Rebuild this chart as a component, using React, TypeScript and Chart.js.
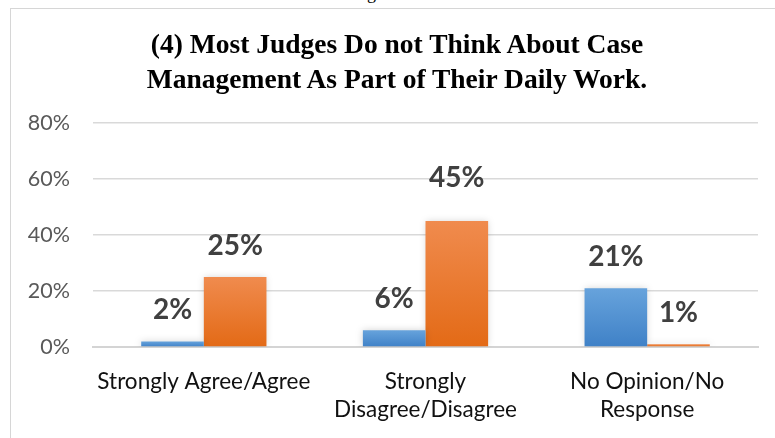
import React, { useEffect, useRef } from "react";
import { Chart, registerables } from "chart.js";

Chart.register(...registerables);

const categories: string[][] = [
  ["Strongly Agree/Agree"],
  ["Strongly", "Disagree/Disagree"],
  ["No Opinion/No", "Response"],
];
const seriesANames = "Series 1";
const seriesBNames = "Series 2";
const seriesA: number[] = [2, 6, 21];
const seriesB: number[] = [25, 45, 1];
const yTicks: number[] = [0, 20, 40, 60, 80];
const titleLines: string[] = [
  "(4) Most Judges Do not Think About Case",
  "Management As Part of Their Daily Work.",
];

const BLUE_TOP = "#67a3dc";
const BLUE_BOT = "#3f81c7";
const ORANGE_TOP = "#f08b4e";
const ORANGE_BOT = "#e36a16";

function barGradient(top: string, bot: string) {
  return (ctx: any) => {
    const chart = ctx.chart;
    const ys = chart.scales && chart.scales.y;
    if (!ys || !chart.chartArea || ctx.parsed == null) return bot;
    const yTop = ys.getPixelForValue(ctx.parsed.y);
    const yBot = ys.getPixelForValue(0);
    if (!isFinite(yTop) || !isFinite(yBot) || yTop === yBot) return bot;
    const g = chart.ctx.createLinearGradient(0, yTop, 0, yBot);
    g.addColorStop(0, top);
    g.addColorStop(1, bot);
    return g;
  };
}

const shadowPlugin = {
  id: "barShadow",
  beforeDatasetsDraw(chart: any) {
    const c = chart.ctx;
    c.save();
    c.shadowColor = "rgba(0,0,0,0.18)";
    c.shadowBlur = 7;
    c.shadowOffsetX = 0;
    c.shadowOffsetY = 0;
  },
  afterDatasetsDraw(chart: any) {
    chart.ctx.restore();
  },
};

const labelPlugin = {
  id: "valueLabels",
  afterDatasetsDraw(chart: any, _args: any, opts: any) {
    const c = chart.ctx;
    c.save();
    c.font = "bold 28px Lato";
    c.fillStyle = "#404040";
    c.textAlign = "center";
    c.textBaseline = "middle";
    chart.data.datasets.forEach((ds: any, di: number) => {
      const meta = chart.getDatasetMeta(di);
      meta.data.forEach((bar: any, i: number) => {
        const extra = (opts.extraLift && opts.extraLift[`${di}-${i}`]) || 0;
        c.fillText(`${ds.data[i]}%`, bar.x, bar.y - 31 - extra);
      });
    });
    c.restore();
  },
};

export default function App() {
  const ref = useRef<HTMLCanvasElement | null>(null);

  useEffect(() => {
    if (!ref.current) return;
    const chart = new Chart(ref.current, {
      type: "bar",
      data: {
        labels: categories,
        datasets: [
          {
            label: seriesANames,
            data: seriesA,
            backgroundColor: barGradient(BLUE_TOP, BLUE_BOT),
            categoryPercentage: 0.565,
            barPercentage: 1,
          },
          {
            label: seriesBNames,
            data: seriesB,
            backgroundColor: barGradient(ORANGE_TOP, ORANGE_BOT),
            categoryPercentage: 0.565,
            barPercentage: 1,
          },
        ],
      },
      options: {
        animation: false,
        responsive: false,
        layout: { padding: { left: 20, right: 17, top: 123, bottom: 0 } },
        plugins: {
          legend: { display: false },
          title: { display: false },
          tooltip: { enabled: false },
          valueLabels: { extraLift: { "1-1": 12 } },
        } as any,
        scales: {
          x: {
            grid: { display: false, drawTicks: false },
            border: { display: true, color: "#d4d4d4", width: 2 },
            ticks: {
              color: "#111111",
              font: { family: "Lato", size: 22.5, lineHeight: 1.27 },
              padding: 20,
              maxRotation: 0,
              autoSkip: false,
            },
            afterFit(scale: any) {
              scale.height = 91;
            },
          },
          y: {
            min: 0,
            max: 80,
            afterBuildTicks(scale: any) {
              scale.ticks = yTicks.map((v) => ({ value: v }));
            },
            grid: { color: "#d9d9d9", lineWidth: 1.5, drawTicks: false },
            border: { display: false },
            ticks: {
              color: "#595959",
              font: { family: "Lato", size: 21.5 },
              padding: 23,
              callback: (v: any) => `${v}%`,
            },
            afterFit(scale: any) {
              scale.width = 73;
            },
          },
        },
      },
      plugins: [shadowPlugin, labelPlugin],
    });
    return () => chart.destroy();
  }, []);

  return (
    <div
      style={{
        position: "fixed",
        left: 0,
        top: 0,
        width: 775,
        height: 438,
        overflow: "hidden",
        background: "#ffffff",
      }}
    >
      <div
        style={{
          position: "absolute",
          left: 352,
          top: -16,
          fontFamily: "'Liberation Serif', serif",
          fontSize: 18,
          lineHeight: "18px",
          color: "#000",
          whiteSpace: "nowrap",
        }}
      >
        Figure 4
      </div>
      <div
        style={{
          position: "absolute",
          left: 10,
          top: 8,
          width: 820,
          height: 460,
          border: "1.5px solid #d6d6d6",
        }}
      />
      <canvas
        ref={ref}
        width={775}
        height={438}
        style={{ position: "absolute", left: 0, top: 0 }}
      />
      <div
        style={{
          position: "absolute",
          left: 0,
          width: 794,
          top: 26,
          textAlign: "center",
          fontFamily: "'Liberation Serif', serif",
          fontWeight: "bold",
          fontSize: 27.5,
          lineHeight: "35px",
          color: "#000",
          whiteSpace: "nowrap",
        }}
      >
        {titleLines.map((t) => (
          <div key={t}>{t}</div>
        ))}
      </div>
    </div>
  );
}
